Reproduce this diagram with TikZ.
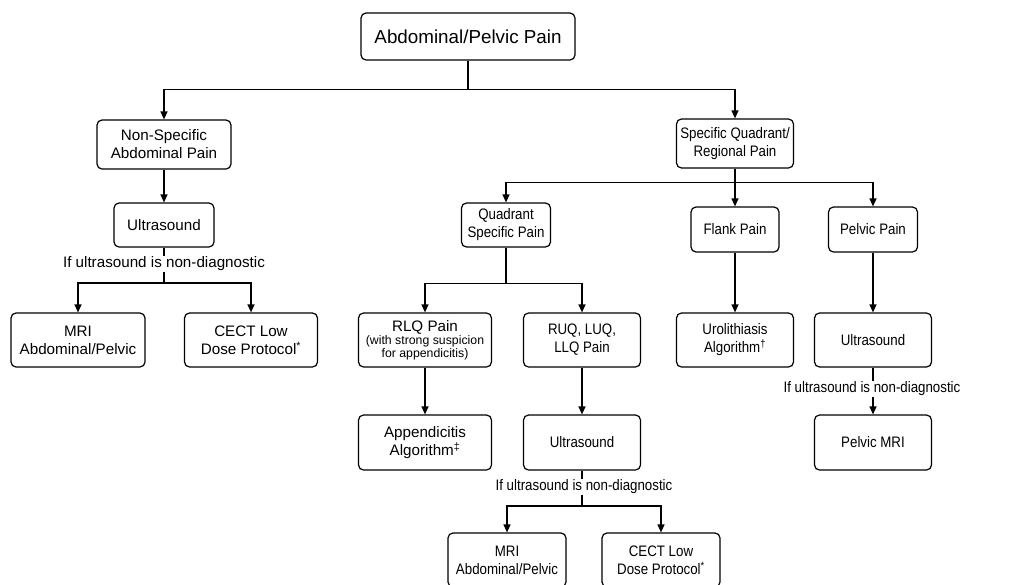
\documentclass[tikz,border=0pt]{standalone}
\usepackage{fontspec}
\setmainfont{Liberation Sans}
\newfontfamily\condfont[FakeStretch=0.875]{Liberation Sans}
\usetikzlibrary{arrows.meta}
\begin{document}
\begin{tikzpicture}[x=1pt,y=-1pt,
 box/.style={draw, line width=1.2pt, rounded corners=5pt, align=center, inner sep=0pt, font=\fontsize{15.2}{18}\selectfont},
 cbox/.style={box, font={\condfont\fontsize{15.2}{18}\selectfont}},
 lbl/.style={inner sep=1pt, font=\fontsize{15.2}{18}\selectfont},
 clbl/.style={lbl, font={\condfont\fontsize{15.2}{18}\selectfont}},
 conn/.style={line width=1.2pt},
 arr/.style={conn, -{Triangle[length=8pt,width=7pt]}}]
\useasboundingbox (0,0) rectangle (1032,584);
\clip (0,0) rectangle (1032,584);
% nodes
\node[box, minimum width=214pt, minimum height=47pt, font=\fontsize{18.8}{22}\selectfont] (top) at (468,36.5) {Abdominal/Pelvic Pain};
\node[box, minimum width=134pt, minimum height=49pt] (ns) at (164,144.5) {Non-Specific\\Abdominal Pain};
\node[box, minimum width=100pt, minimum height=44pt] (us1) at (164,225) {Ultrasound};
\node[lbl] (l1) at (164,264) {If ultrasound is non-diagnostic};
\node[box, minimum width=134pt, minimum height=54pt] (mri1) at (78,340) {MRI\\Abdominal/Pelvic};
\node[box, minimum width=133pt, minimum height=54pt] (cect1) at (251,340) {CECT Low\\Dose Protocol\textsuperscript{*}};

\node[cbox, minimum width=117pt, minimum height=49pt] (sq) at (735,143.5) {Specific Quadrant/\\Regional Pain};
\node[cbox, minimum width=89pt, minimum height=44pt] (qs) at (506,225) {Quadrant\\Specific Pain};
\node[cbox, minimum width=88pt, minimum height=45pt] (flank) at (735,229.5) {Flank Pain};
\node[cbox, minimum width=89pt, minimum height=45pt] (pelvic) at (873,229.5) {Pelvic Pain};

\node[box, minimum width=133pt, minimum height=54pt] (rlq) at (425,340) {RLQ Pain\\[-5pt]\fontsize{12.3}{12.5}\selectfont (with strong suspicion\\[-5pt]\fontsize{12.3}{12.5}\selectfont for appendicitis)};
\node[cbox, minimum width=117pt, minimum height=54pt] (ruq) at (582,340) {RUQ, LUQ,\\LLQ Pain};
\node[cbox, minimum width=117pt, minimum height=54pt] (uro) at (735,340) {Urolithiasis\\Algorithm\textsuperscript{†}};
\node[cbox, minimum width=117pt, minimum height=54pt] (us3) at (873,340) {Ultrasound};

\node[box, minimum width=133pt, minimum height=55pt] (app) at (425,442.5) {Appendicitis\\Algorithm\textsuperscript{‡}};
\node[cbox, minimum width=117pt, minimum height=55pt] (us2) at (582,442.5) {Ultrasound};
\node[clbl] (l3) at (872,389) {If ultrasound is non-diagnostic};
\node[cbox, minimum width=117pt, minimum height=55pt] (pmri) at (873,442.5) {Pelvic MRI};

\node[clbl] (l2) at (584,487) {If ultrasound is non-diagnostic};
\node[cbox, minimum width=118pt, minimum height=54pt] (mri2) at (507,560) {MRI\\Abdominal/Pelvic};
\node[cbox, minimum width=118pt, minimum height=54pt] (cect2) at (661,560) {CECT Low\\Dose Protocol\textsuperscript{*}};

% connectors
\draw[arr] (top.south) -- ++(0,29) -| (ns.north);
\draw[arr] (top.south) -- ++(0,29) -| (sq.north);
\draw[arr] (ns) -- (us1);
\draw[conn] (us1.south) -- (l1.north);
\coordinate (b1) at (164,283);
\draw[conn] (l1.south) -- (b1);
\draw[arr] (b1) -| (mri1.north);
\draw[arr] (b1) -| (cect1.north);

\draw[arr] (sq.south) -- ++(0,14) -| (qs.north);
\draw[arr] (sq.south) -- (flank.north);
\draw[arr] (sq.south) -- ++(0,14) -| (pelvic.north);

\draw[arr] (qs.south) -- ++(0,36) -| (rlq.north);
\draw[arr] (qs.south) -- ++(0,36) -| (ruq.north);
\draw[arr] (rlq) -- (app);
\draw[arr] (ruq) -- (us2);
\draw[arr] (flank) -- (uro);
\draw[arr] (pelvic) -- (us3);

\draw[conn] (us3.south) -- (us3.south |- l3.north);
\draw[arr] (pmri.north |- l3.south) -- (pmri.north);

\draw[conn] (us2.south) -- (us2.south |- l2.north);
\coordinate (b2) at (582,506);
\draw[conn] (us2.south |- l2.south) -- (b2);
\draw[arr] (b2) -| (mri2.north);
\draw[arr] (b2) -| (cect2.north);
\end{tikzpicture}
\end{document}
